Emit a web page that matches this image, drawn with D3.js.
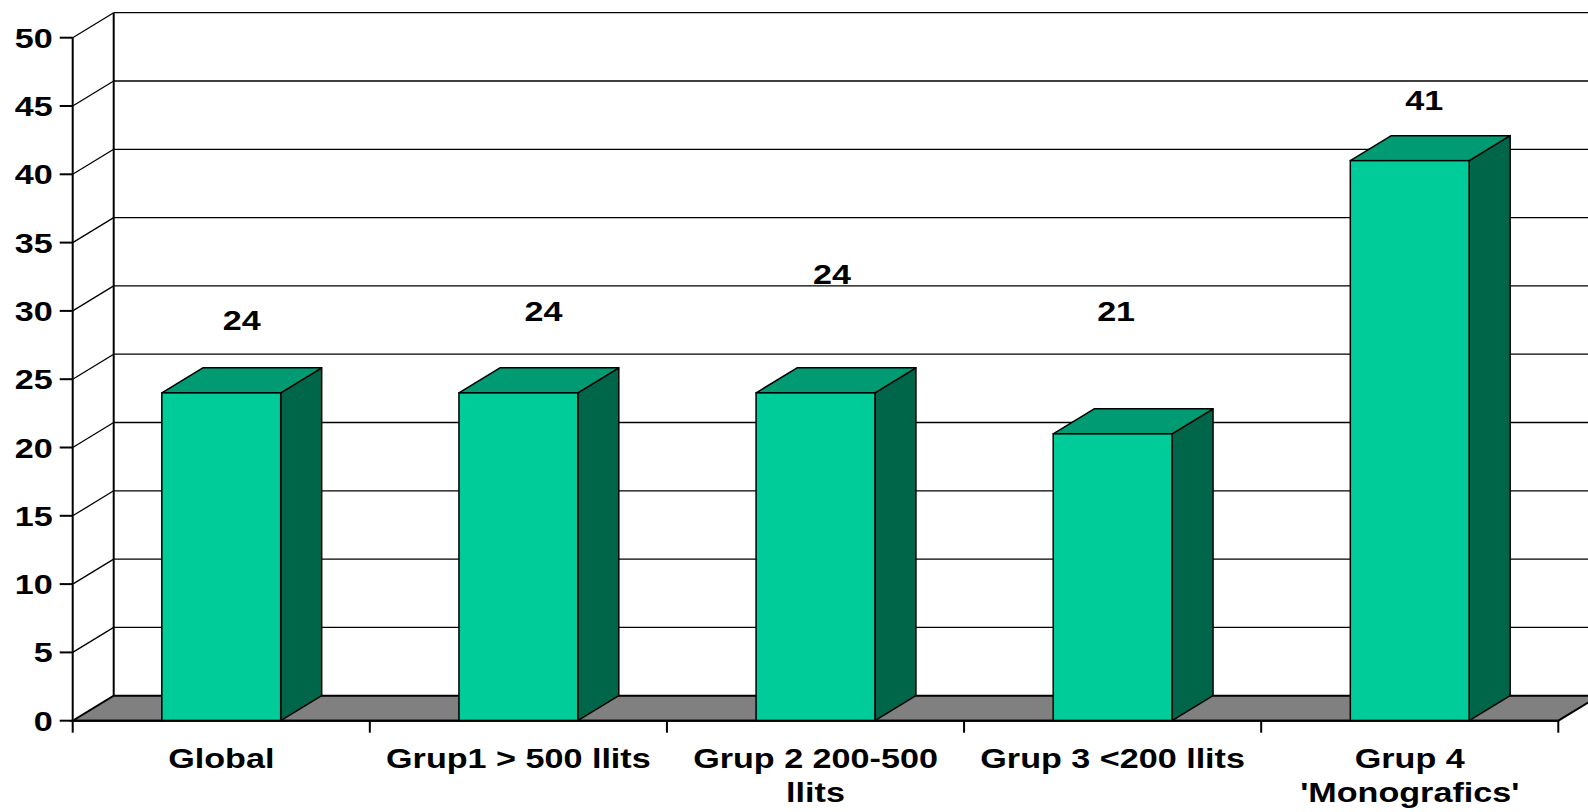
<!DOCTYPE html>
<html>
<head>
<meta charset="utf-8">
<script src="https://cdn.jsdelivr.net/npm/d3@7"></script>
<style>
  html, body { margin: 0; padding: 0; background: #ffffff; }
  svg { display: block; }
  text { font-family: "Liberation Sans", Arial, sans-serif; font-weight: bold; fill: #000; }
</style>
</head>
<body>
<svg id="chart" width="1588" height="812"></svg>
<script>
// Categories and values
const categories = ["Global", "Grup1 > 500 llits", "Grup 2 200-500 llits", "Grup 3 <200 llits", "Grup 4 'Monografics'"];
const values = [24, 24, 24, 21, 41];
const yTicks = [0, 5, 10, 15, 20, 25, 30, 35, 40, 45, 50];

// Layout
const W = 1588, H = 812;
const axisX = 72.7, axisRight = 1558.3;
const baseY = 720.7, topY = 37.7;
const depthX = 41, depthY = 25;
const fontSize = 27, stretch = 1.265;
// placement of each value label relative to its bar (px)
const labelLift = [38, 47, 84, 88, 26];
const labelShift = [0, 4.5, -4, -17, -6];

const colors = { front: "#00CC99", top: "#009B73", side: "#00664A", floor: "#808080" };

const svg = d3.select("#chart");

const y = d3.scaleLinear().domain([0, 50]).range([baseY, topY]);
const x = d3.scaleBand().domain(categories).range([axisX, axisRight])
  .paddingInner(0.6).paddingOuter(0.3);

// back wall gridlines
const grid = svg.append("g");
grid.selectAll("line.back").data(yTicks.filter(d => d > 0)).join("line")
  .attr("x1", axisX + depthX).attr("x2", W + 10)
  .attr("y1", d => y(d) - depthY).attr("y2", d => y(d) - depthY)
  .attr("stroke", "#000").attr("stroke-width", 1.3);
// side wall gridlines
grid.selectAll("line.side").data(yTicks.filter(d => d > 0)).join("line")
  .attr("x1", axisX).attr("x2", axisX + depthX)
  .attr("y1", d => y(d)).attr("y2", d => y(d) - depthY)
  .attr("stroke", "#000").attr("stroke-width", 1.3);
// back wall left edge
grid.append("line")
  .attr("x1", axisX + depthX).attr("x2", axisX + depthX)
  .attr("y1", y(50) - depthY).attr("y2", y(0) - depthY)
  .attr("stroke", "#000").attr("stroke-width", 2);

// floor
svg.append("path")
  .attr("d", `M${axisX},${y(0)} L${axisRight},${y(0)} L${axisRight + depthX},${y(0) - depthY} L${axisX + depthX},${y(0) - depthY} Z`)
  .attr("fill", colors.floor).attr("stroke", "#000").attr("stroke-width", 2);

// bars
const bars = svg.append("g").selectAll("g").data(values).join("g");
bars.each(function (v, i) {
  const g = d3.select(this);
  const x0 = x(categories[i]), x1 = x0 + x.bandwidth();
  const yt = y(v), y0 = y(0);
  g.append("path")
    .attr("d", `M${x1},${yt} L${x1 + depthX},${yt - depthY} L${x1 + depthX},${y0 - depthY} L${x1},${y0} Z`)
    .attr("fill", colors.side).attr("stroke", "#000").attr("stroke-width", 1.5).attr("stroke-linejoin", "round");
  g.append("path")
    .attr("d", `M${x0},${yt} L${x0 + depthX},${yt - depthY} L${x1 + depthX},${yt - depthY} L${x1},${yt} Z`)
    .attr("fill", colors.top).attr("stroke", "#000").attr("stroke-width", 1.5).attr("stroke-linejoin", "round");
  g.append("rect")
    .attr("x", x0).attr("y", yt).attr("width", x1 - x0).attr("height", y0 - yt)
    .attr("fill", colors.front).attr("stroke", "#000").attr("stroke-width", 1.5);
});

// value labels
svg.append("g").selectAll("text").data(values).join("text")
  .attr("transform", (v, i) => {
    const cx = x(categories[i]) + (x.bandwidth() + depthX) / 2 + labelShift[i];
    const cy = y(v) - depthY - labelLift[i];
    return `translate(${cx},${cy}) scale(${stretch},1)`;
  })
  .attr("text-anchor", "middle")
  .attr("font-size", fontSize)
  .text(v => v);

// value axis
const yAxis = svg.append("g");
yAxis.append("line")
  .attr("x1", axisX).attr("x2", axisX).attr("y1", y(50)).attr("y2", y(0))
  .attr("stroke", "#000").attr("stroke-width", 2);
yAxis.selectAll("line.tick").data(yTicks).join("line")
  .attr("x1", axisX - 13).attr("x2", axisX)
  .attr("y1", d => y(d)).attr("y2", d => y(d))
  .attr("stroke", "#000").attr("stroke-width", 2);
yAxis.selectAll("text").data(yTicks).join("text")
  .attr("transform", d => `translate(${axisX - 20},${y(d) + 10}) scale(${stretch},1)`)
  .attr("text-anchor", "end")
  .attr("font-size", fontSize)
  .text(d => d);

// category axis
const xAxis = svg.append("g");
xAxis.append("line")
  .attr("x1", axisX).attr("x2", axisRight).attr("y1", y(0)).attr("y2", y(0))
  .attr("stroke", "#000").attr("stroke-width", 2);
const bounds = d3.range(categories.length + 1).map(i => axisX + i * x.step());
xAxis.selectAll("line.tick").data(bounds).join("line")
  .attr("x1", d => d).attr("x2", d => d)
  .attr("y1", y(0)).attr("y2", y(0) + 12)
  .attr("stroke", "#000").attr("stroke-width", 2);

// wrapped category labels
const maxW = x.step();
xAxis.selectAll("text").data(categories).join("text")
  .attr("transform", d => `translate(${x(d) + x.bandwidth() / 2},${y(0) + 47}) scale(${stretch},1)`)
  .attr("text-anchor", "middle")
  .attr("font-size", fontSize)
  .each(function (d) {
    const t = d3.select(this);
    const words = d.split(" ");
    const lines = [];
    let line = [];
    const probe = t.append("tspan");
    words.forEach(w => {
      const test = line.concat([w]).join(" ");
      probe.text(test);
      if (probe.node().getComputedTextLength() * stretch > maxW && line.length) {
        lines.push(line.join(" "));
        line = [w];
      } else {
        line.push(w);
      }
    });
    lines.push(line.join(" "));
    probe.remove();
    lines.forEach((l, k) => {
      t.append("tspan").attr("x", 0).attr("dy", k === 0 ? 0 : 34).text(l);
    });
  });
</script>
</body>
</html>
